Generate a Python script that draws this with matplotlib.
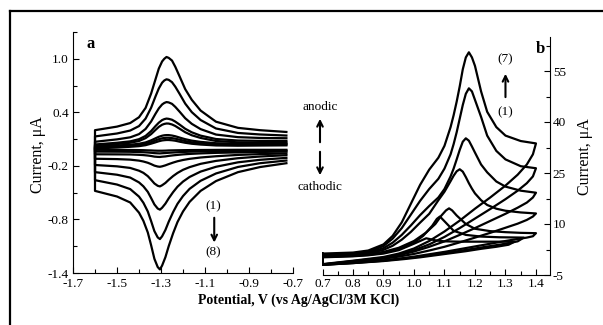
import numpy as np
import matplotlib
matplotlib.use("Agg")
import matplotlib.pyplot as plt
from matplotlib.ticker import FixedLocator
from matplotlib.lines import Line2D
from matplotlib.patches import FancyArrowPatch

plt.rcParams['font.family'] = 'serif'
plt.rcParams['font.serif'] = ['Liberation Serif', 'DejaVu Serif']
plt.rcParams['axes.unicode_minus'] = False

# ---------------- panel a : potential grids (V) ----------------
ea_fwd = [-1.60, -1.50, -1.44, -1.40, -1.37, -1.345, -1.325, -1.31, -1.295, -1.285, -1.275,
          -1.265, -1.25, -1.235, -1.215, -1.19, -1.16, -1.12, -1.05, -0.95, -0.85, -0.73]
ea_rev = [-0.73, -0.85, -0.95, -1.05, -1.12, -1.17, -1.20, -1.225, -1.245, -1.265, -1.28,
          -1.295, -1.305, -1.315, -1.33, -1.345, -1.36, -1.38, -1.40, -1.44, -1.50, -1.60]

# anodic (upper) branches, curves (1)..(8), uA
a1 = [0.0, 0.007, 0.014, 0.021, 0.032, 0.049, 0.064, 0.076, 0.085, 0.088, 0.09,
      0.09, 0.087, 0.082, 0.071, 0.059, 0.048, 0.039, 0.029, 0.026, 0.028, 0.03]
a2 = [0.01, 0.018, 0.025, 0.034, 0.047, 0.066, 0.085, 0.099, 0.109, 0.113, 0.115,
      0.115, 0.111, 0.105, 0.093, 0.078, 0.064, 0.053, 0.041, 0.037, 0.038, 0.04]
a3 = [0.02, 0.029, 0.037, 0.048, 0.063, 0.086, 0.109, 0.126, 0.138, 0.143, 0.145,
      0.145, 0.14, 0.132, 0.117, 0.099, 0.083, 0.069, 0.054, 0.048, 0.048, 0.05]
a4 = [0.03, 0.045, 0.059, 0.079, 0.111, 0.156, 0.203, 0.237, 0.261, 0.27, 0.275,
      0.274, 0.264, 0.247, 0.216, 0.177, 0.143, 0.113, 0.079, 0.064, 0.061, 0.06]
a5 = [0.04, 0.059, 0.075, 0.099, 0.136, 0.19, 0.246, 0.284, 0.313, 0.324, 0.33,
      0.327, 0.317, 0.296, 0.262, 0.216, 0.176, 0.139, 0.101, 0.084, 0.08, 0.08]
a6 = [0.07, 0.097, 0.12, 0.156, 0.214, 0.297, 0.384, 0.444, 0.488, 0.505, 0.515,
      0.511, 0.495, 0.461, 0.406, 0.334, 0.271, 0.212, 0.151, 0.122, 0.113, 0.11]
a7 = [0.13, 0.163, 0.196, 0.246, 0.33, 0.451, 0.578, 0.667, 0.732, 0.757, 0.77,
      0.764, 0.738, 0.687, 0.605, 0.498, 0.402, 0.314, 0.219, 0.169, 0.152, 0.14]
a8 = [0.20, 0.24, 0.28, 0.345, 0.45, 0.61, 0.77, 0.89, 0.97, 1.00, 1.02,
      1.01, 0.98, 0.91, 0.80, 0.66, 0.54, 0.42, 0.295, 0.226, 0.20, 0.18]

# cathodic (lower) branches, curves (1)..(8), uA
c1 = [-0.02, -0.02, -0.02, -0.021, -0.022, -0.023, -0.024, -0.025, -0.026, -0.027, -0.029,
      -0.03, -0.03, -0.03, -0.029, -0.027, -0.026, -0.024, -0.023, -0.022, -0.021, -0.02]
c2 = [-0.03, -0.031, -0.034, -0.036, -0.038, -0.041, -0.044, -0.047, -0.05, -0.053, -0.056,
      -0.058, -0.06, -0.059, -0.057, -0.053, -0.05, -0.047, -0.045, -0.042, -0.041, -0.04]
c3 = [-0.04, -0.044, -0.049, -0.054, -0.06, -0.066, -0.071, -0.077, -0.082, -0.088, -0.094,
      -0.097, -0.10, -0.099, -0.096, -0.089, -0.084, -0.079, -0.076, -0.072, -0.071, -0.07]
c4 = [-0.06, -0.068, -0.077, -0.092, -0.106, -0.121, -0.134, -0.148, -0.163, -0.18, -0.194,
      -0.205, -0.21, -0.207, -0.197, -0.18, -0.165, -0.151, -0.141, -0.13, -0.124, -0.12]
c5 = [-0.08, -0.095, -0.114, -0.144, -0.177, -0.214, -0.244, -0.279, -0.314, -0.356, -0.391,
      -0.417, -0.43, -0.423, -0.397, -0.355, -0.315, -0.278, -0.254, -0.223, -0.205, -0.19]
c6 = [-0.11, -0.132, -0.16, -0.21, -0.264, -0.324, -0.376, -0.433, -0.494, -0.564, -0.623,
      -0.669, -0.69, -0.678, -0.632, -0.56, -0.491, -0.429, -0.385, -0.331, -0.299, -0.27]
c7 = [-0.14, -0.17, -0.212, -0.285, -0.367, -0.457, -0.538, -0.625, -0.718, -0.826, -0.918,
      -0.989, -1.02, -1.001, -0.931, -0.818, -0.711, -0.613, -0.544, -0.46, -0.409, -0.36]
c8 = [-0.17, -0.213, -0.27, -0.37, -0.48, -0.603, -0.711, -0.829, -0.955, -1.10, -1.223,
      -1.317, -1.36, -1.333, -1.241, -1.088, -0.946, -0.816, -0.724, -0.61, -0.543, -0.48]

anodic_a = [a1, a2, a3, a4, a5, a6, a7, a8]
cathodic_a = [c1, c2, c3, c4, c5, c6, c7, c8]

# ---------------- panel b ----------------
eb_fwd = [0.70, 0.80, 0.85, 0.90, 0.93, 0.96, 0.99, 1.02, 1.05, 1.08, 1.10, 1.12, 1.13,
          1.14, 1.15, 1.16, 1.17, 1.18, 1.19, 1.20, 1.22, 1.24, 1.27, 1.30, 1.35, 1.40]
eb_rev = [1.40, 1.39, 1.37, 1.34, 1.30, 1.25, 1.20, 1.15, 1.10, 1.05, 1.00, 0.95, 0.90, 0.80, 0.70]

f7 = [1.3, 1.6, 2.2, 4.0, 6.5, 10.5, 16.0, 21.5, 26.0, 29.5, 33.0, 38.5, 42.0,
      46.0, 50.5, 55.5, 59.0, 60.5, 59.0, 56.5, 49.0, 43.0, 38.5, 36.0, 34.4, 33.7]
f6 = [1.0, 1.3, 1.9, 3.5, 5.7, 8.8, 12.8, 16.8, 20.3, 23.3, 26.3, 30.5, 33.5,
      37.0, 41.0, 45.0, 48.3, 49.9, 49.0, 46.5, 41.5, 36.0, 31.5, 29.0, 27.0, 26.4]
f5 = [0.8, 1.1, 1.6, 2.9, 4.5, 6.8, 9.6, 12.6, 15.3, 17.8, 20.3, 24.0, 26.3,
      29.0, 31.8, 34.2, 35.2, 34.5, 32.8, 31.0, 27.5, 25.2, 22.5, 21.0, 19.8, 19.2]
f4 = [0.6, 0.9, 1.3, 2.4, 3.6, 5.4, 7.7, 10.4, 13.0, 17.0, 19.5, 22.6, 24.2,
      25.5, 26.1, 25.4, 23.8, 22.0, 20.4, 19.0, 17.0, 15.6, 14.5, 13.9, 13.4, 13.1]
r7 = [33.7, 30.5, 27.5, 24.5, 21.3, 17.8, 14.5, 11.0, 7.8, 5.0, 2.8, 1.3, 0.3, -0.8, -1.8]
r6 = [26.4, 24.0, 22.0, 19.8, 17.3, 14.4, 11.6, 8.8, 6.2, 4.0, 2.3, 1.0, 0.1, -0.9, -1.9]
r5 = [19.2, 17.8, 16.3, 14.8, 13.0, 10.9, 8.8, 6.8, 4.9, 3.3, 1.9, 0.8, 0.0, -1.0, -1.9]
r4 = [13.1, 12.2, 11.2, 10.1, 8.9, 7.4, 6.0, 4.6, 3.3, 2.2, 1.2, 0.4, -0.2, -1.1, -2.0]
r3 = [7.3, 6.4, 6.0, 5.6, 5.0, 4.2, 3.4, 2.6, 1.8, 1.1, 0.4, -0.2, -0.7, -1.4, -2.0]

e3_fwd = [0.70, 0.80, 0.85, 0.90, 0.95, 1.00, 1.04, 1.07, 1.09, 1.105, 1.115, 1.125,
          1.14, 1.17, 1.20, 1.25, 1.30, 1.35, 1.40]
f3 = [0.4, 0.7, 1.1, 1.8, 3.0, 5.0, 7.5, 10.0, 12.5, 14.0, 14.6, 14.0,
      12.5, 10.0, 8.6, 7.9, 7.6, 7.4, 7.3]

e2_fwd = [0.70, 0.80, 0.85, 0.90, 0.95, 1.00, 1.03, 1.06, 1.075, 1.085, 1.10, 1.13,
          1.17, 1.22, 1.28, 1.36]
f2 = [0.3, 0.6, 0.9, 1.5, 2.6, 4.5, 6.5, 9.5, 11.5, 12.2, 10.8, 8.0, 6.8, 6.3, 6.1, 6.0]
e2_rev = [1.36, 1.34, 1.30, 1.25, 1.20, 1.15, 1.10, 1.05, 1.00, 0.95, 0.90, 0.80, 0.70]
r2 = [6.0, 4.9, 4.2, 3.5, 2.8, 2.1, 1.4, 0.8, 0.2, -0.3, -0.8, -1.5, -2.0]

e1_fwd = [0.70, 0.80, 0.85, 0.90, 0.95, 1.00, 1.04, 1.07, 1.10, 1.15, 1.20, 1.26, 1.33]
f1 = [0.2, 0.5, 0.8, 1.3, 2.3, 4.2, 5.8, 5.2, 4.9, 4.8, 4.8, 4.8, 4.8]
e1_rev = [1.33, 1.31, 1.27, 1.22, 1.17, 1.12, 1.07, 1.02, 0.97, 0.90, 0.80, 0.70]
r1 = [4.8, 3.9, 3.3, 2.7, 2.0, 1.4, 0.8, 0.2, -0.3, -0.9, -1.5, -2.0]

loops_b = [(e1_fwd, f1, e1_rev, r1), (e2_fwd, f2, e2_rev, r2),
           (e3_fwd, f3, eb_rev, r3), (eb_fwd, f4, eb_rev, r4),
           (eb_fwd, f5, eb_rev, r5), (eb_fwd, f6, eb_rev, r6),
           (eb_fwd, f7, eb_rev, r7)]

W, H = 603, 325
fig = plt.figure(figsize=(6.03, 3.25), dpi=100)
lw = 1.6

# ---- panel a
ax1 = fig.add_axes([73/W, 1-273/H, 220/W, 241/H])
for up, down in zip(anodic_a, cathodic_a):
    ax1.plot(ea_rev + ea_fwd, down + up, color='k', lw=lw, solid_joinstyle='round')
ax1.set_xlim(-1.7, -0.7)
ax1.set_ylim(-1.4, 1.3)
ax1.spines['top'].set_visible(False)
ax1.spines['right'].set_visible(False)
ax1.xaxis.set_major_locator(FixedLocator([-1.7, -1.5, -1.3, -1.1, -0.9, -0.7]))
ax1.xaxis.set_minor_locator(FixedLocator([-1.6, -1.4, -1.2, -1.0, -0.8]))
ax1.yaxis.set_major_locator(FixedLocator([-1.4, -0.8, -0.2, 0.4, 1.0]))
ax1.yaxis.set_minor_locator(FixedLocator([-1.1, -0.5, 0.1, 0.7, 1.3]))
ax1.set_xticklabels(['-1.7', '-1.5', '-1.3', '-1.1', '-0.9', '-0.7'])
ax1.set_yticklabels(['-1.4', '-0.8', '-0.2', '0.4', '1.0'])
ax1.tick_params(which='both', direction='in', labelsize=9.5, width=0.8)
ax1.tick_params(axis='y', pad=3)
ax1.tick_params(axis='x', pad=3.5)
ax1.tick_params(which='major', length=4)
ax1.tick_params(which='minor', length=3)
ax1.text(-1.62, 1.16, 'a', fontsize=12, fontweight='bold', ha='center', va='center')
ax1.text(-1.062, -0.65, '(1)', fontsize=9.5, ha='center', va='center')
ax1.text(-1.062, -1.17, '(8)', fontsize=9.5, ha='center', va='center')
ax1.annotate('', xy=(-1.058, -1.09), xytext=(-1.058, -0.75),
             arrowprops=dict(arrowstyle='->', lw=1.5, color='k'))

# ---- panel b
ax2 = fig.add_axes([322.5/W, 1-275/H, 227.5/W, 238/H])
for ef, fi, er, ri in loops_b:
    ax2.plot(ef + er + ef[:1], fi + ri + fi[:1], color='k', lw=lw, solid_joinstyle='round')
ax2.set_xlim(0.7, 1.446)
ax2.set_ylim(-5, 65)
ax2.spines['top'].set_visible(False)
ax2.spines['left'].set_visible(False)
ax2.yaxis.tick_right()
xt = [0.7, 0.8, 0.9, 1.0, 1.1, 1.2, 1.3, 1.4]
ax2.xaxis.set_major_locator(FixedLocator(xt))
ax2.xaxis.set_minor_locator(FixedLocator([0.75, 0.85, 0.95, 1.05, 1.15, 1.25, 1.35]))
ax2.set_xticklabels(['%.1f' % v for v in xt])
ax2.yaxis.set_major_locator(FixedLocator([-5, 10, 25, 40, 55]))
ax2.yaxis.set_minor_locator(FixedLocator([2.5, 17.5, 32.5, 47.5, 62.5]))
ax2.set_yticklabels(['-5', '10', '25', '40', '55'])
ax2.tick_params(which='both', direction='in', labelsize=9.5, pad=2, width=0.8)
ax2.tick_params(which='major', length=4)
ax2.tick_params(which='minor', length=3)
ax2.text(1.43, 61.5, 'b', fontsize=12, fontweight='bold', ha='right', va='center')
ax2.text(1.30, 58.5, '(7)', fontsize=9.5, ha='center', va='center')
ax2.text(1.30, 43, '(1)', fontsize=9.5, ha='center', va='center')
ax2.annotate('', xy=(1.30, 55), xytext=(1.30, 46.5),
             arrowprops=dict(arrowstyle='->', lw=1.5, color='k'))

# ---- labels and middle arrows
fig.text(38/W, 1-155/H, 'Current, μA', rotation=90, fontsize=11.5, ha='center', va='center')
fig.text(585/W, 1-157/H, 'Current, μA', rotation=90, fontsize=11.5, ha='center', va='center')
fig.text(299/W, 1-300/H, 'Potential, V (vs Ag/AgCl/3M KCl)', fontsize=10,
         fontweight='bold', ha='center', va='center')
fig.text(320/W, 1-107/H, 'anodic', fontsize=9.5, ha='center', va='center')
fig.text(320/W, 1-187/H, 'cathodic', fontsize=9.5, ha='center', va='center')
fig.add_artist(FancyArrowPatch((320/W, 1-145/H), (320/W, 1-116/H), transform=fig.transFigure,
                               arrowstyle='->', mutation_scale=10, lw=1.5, color='k'))
fig.add_artist(FancyArrowPatch((320/W, 1-149/H), (320/W, 1-178/H), transform=fig.transFigure,
                               arrowstyle='->', mutation_scale=10, lw=1.5, color='k'))

# outer frame (left and top edges)
fig.add_artist(Line2D([10/W, 10/W], [0, 1-11/H], transform=fig.transFigure, color='k', lw=1.6))
fig.add_artist(Line2D([10/W, 1], [1-11/H, 1-11/H], transform=fig.transFigure, color='k', lw=1.6))

fig.savefig('out.png', dpi=100)
